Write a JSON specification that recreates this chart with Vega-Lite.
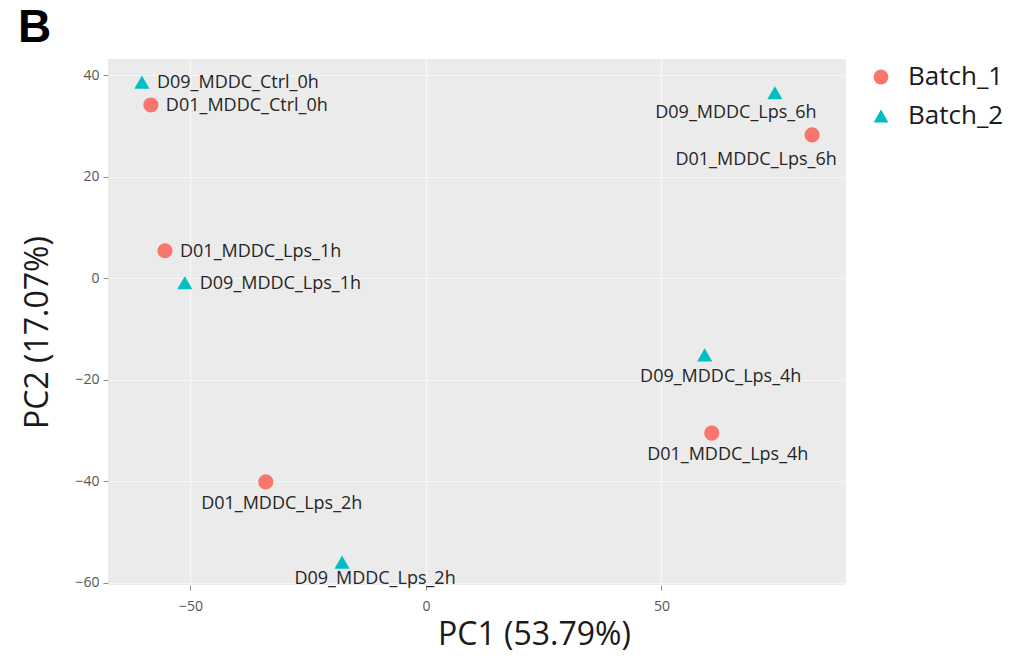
{
  "$schema": "https://vega.github.io/schema/vega-lite/v6.json",
  "autosize": "none",
  "width": 738,
  "height": 526,
  "padding": {"left": 108, "top": 59, "right": 164, "bottom": 78},
  "background": "white",
  "title": {"text": "B", "anchor": "start", "frame": "group", "font": "Liberation Sans", "fontSize": 46, "fontWeight": "bold", "color": "black", "dx": -90, "offset": 7},
  "config": {
    "view": {"fill": "#ebebeb", "stroke": null},
    "axis": {
      "grid": true, "gridColor": "#f7f7f7", "gridWidth": 1.2,
      "domain": false, "tickColor": "#8c8c8c", "tickSize": 5,
      "labelColor": "#555555", "labelFont": "Open Sans", "labelFontSize": 14,
      "titleFont": "Open Sans", "titleFontSize": 32, "titleFontWeight": "normal", "titleColor": "#1a1a1a"
    }
  },
  "data": {"values": [
    {"sample": "D09_MDDC_Ctrl_0h", "batch": "Batch_2", "PC1": -60.3, "PC2": 38.6},
    {"sample": "D01_MDDC_Ctrl_0h", "batch": "Batch_1", "PC1": -58.4, "PC2": 34.1},
    {"sample": "D01_MDDC_Lps_1h", "batch": "Batch_1", "PC1": -55.4, "PC2": 5.4},
    {"sample": "D09_MDDC_Lps_1h", "batch": "Batch_2", "PC1": -51.2, "PC2": -0.9},
    {"sample": "D01_MDDC_Lps_2h", "batch": "Batch_1", "PC1": -34.0, "PC2": -40.1},
    {"sample": "D09_MDDC_Lps_2h", "batch": "Batch_2", "PC1": -17.8, "PC2": -55.9},
    {"sample": "D09_MDDC_Lps_4h", "batch": "Batch_2", "PC1": 59.2, "PC2": -15.1},
    {"sample": "D01_MDDC_Lps_4h", "batch": "Batch_1", "PC1": 60.7, "PC2": -30.5},
    {"sample": "D09_MDDC_Lps_6h", "batch": "Batch_2", "PC1": 74.1, "PC2": 36.5},
    {"sample": "D01_MDDC_Lps_6h", "batch": "Batch_1", "PC1": 82.0, "PC2": 28.2}
  ]},
  "encoding": {
    "x": {"field": "PC1", "type": "quantitative",
      "scale": {"domain": [-67.5, 89.2], "nice": false, "zero": false},
      "axis": {"values": [-50, 0, 50], "title": "PC1 (53.79%)", "labelPadding": 9, "titleX": 426, "titleY": 34, "titleBaseline": "top", "titleAlign": "center", "titleAnchor": null}},
    "y": {"field": "PC2", "type": "quantitative",
      "scale": {"domain": [-60.4, 43.15], "nice": false, "zero": false},
      "axis": {"values": [-60, -40, -20, 0, 20, 40], "title": "PC2 (17.07%)", "labelPadding": 4, "titleX": -61, "titleY": 273, "titleBaseline": "alphabetic", "titleAlign": "center", "titleAngle": 270}}
  },
  "layer": [
    {
      "mark": {"type": "point", "filled": true, "opacity": 1, "size": 230},
      "encoding": {
        "color": {"field": "batch", "type": "nominal", "scale": {"domain": ["Batch_1", "Batch_2"], "range": ["#F8766D", "#00BFC4"]},
          "legend": {"title": null, "orient": "none", "legendX": 760, "legendY": 5, "labelFont": "Open Sans", "labelFontSize": 26, "labelColor": "#1a1a1a", "symbolSize": 220, "labelOffset": 14, "rowPadding": 13}},
        "shape": {"field": "batch", "type": "nominal", "scale": {"domain": ["Batch_1", "Batch_2"], "range": ["circle", "triangle-up"]},
          "legend": {"title": null, "orient": "none", "legendX": 760, "legendY": 5, "labelFont": "Open Sans", "labelFontSize": 26, "labelColor": "#1a1a1a", "symbolSize": 220, "labelOffset": 14, "rowPadding": 13}}
      }
    },
    {
      "transform": [{"filter": {"field": "sample", "oneOf": ["D09_MDDC_Ctrl_0h", "D01_MDDC_Ctrl_0h", "D01_MDDC_Lps_1h", "D09_MDDC_Lps_1h"]}}],
      "mark": {"type": "text", "align": "left", "baseline": "middle", "dx": 15, "dy": 1, "font": "Open Sans", "fontSize": 18, "color": "#262626"},
      "encoding": {"text": {"field": "sample"}}
    },
    {
      "transform": [{"filter": {"field": "sample", "oneOf": ["D01_MDDC_Lps_2h", "D09_MDDC_Lps_4h", "D01_MDDC_Lps_4h"]}}],
      "mark": {"type": "text", "align": "center", "baseline": "middle", "dx": 16, "dy": 22, "font": "Open Sans", "fontSize": 18, "color": "#262626"},
      "encoding": {"text": {"field": "sample"}}
    },
    {
      "transform": [{"filter": {"field": "sample", "equal": "D09_MDDC_Lps_2h"}}],
      "mark": {"type": "text", "align": "center", "baseline": "middle", "dx": 33, "dy": 17, "font": "Open Sans", "fontSize": 18, "color": "#262626"},
      "encoding": {"text": {"field": "sample"}}
    },
    {
      "transform": [{"filter": {"field": "sample", "equal": "D09_MDDC_Lps_6h"}}],
      "mark": {"type": "text", "align": "center", "baseline": "middle", "dx": -39, "dy": 20, "font": "Open Sans", "fontSize": 18, "color": "#262626"},
      "encoding": {"text": {"field": "sample"}}
    },
    {
      "transform": [{"filter": {"field": "sample", "equal": "D01_MDDC_Lps_6h"}}],
      "mark": {"type": "text", "align": "center", "baseline": "middle", "dx": -56, "dy": 25, "font": "Open Sans", "fontSize": 18, "color": "#262626"},
      "encoding": {"text": {"field": "sample"}}
    }
  ]
}
